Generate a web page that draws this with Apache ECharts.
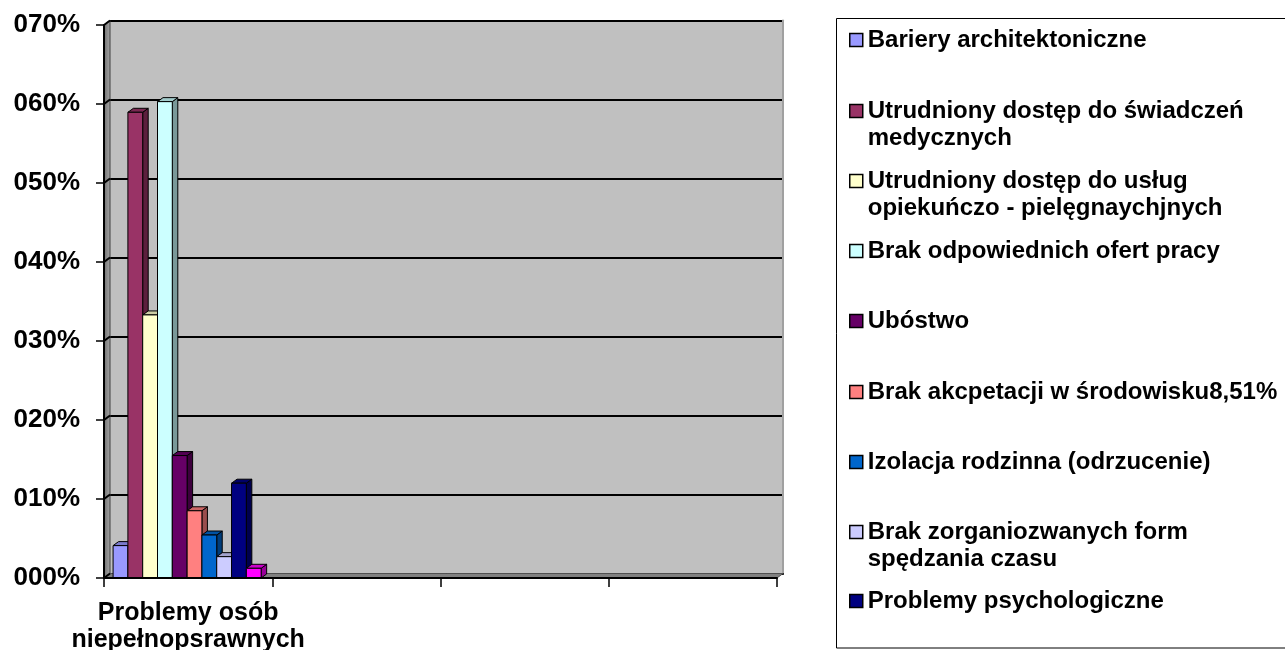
<!DOCTYPE html>
<html><head><meta charset="utf-8">
<script src="https://cdn.jsdelivr.net/npm/echarts@6/dist/echarts.min.js"></script>
<style>html,body{margin:0;padding:0;background:#fff}#c{width:1285px;height:650px}</style>
</head><body><div id="c"></div>
<script>
// ---- data ----
const categories = ['Problemy osób\nniepełnopsrawnych', '', '', ''];
const seriesNames = [
  'Bariery architektoniczne',
  'Utrudniony dostęp do świadczeń\nmedycznych',
  'Utrudniony dostęp do usług\nopiekuńczo - pielęgnaychjnych',
  'Brak odpowiednich ofert pracy',
  'Ubóstwo',
  'Brak akcpetacji w środowisku8,51%',
  'Izolacja rodzinna (odrzucenie)',
  'Brak zorganiozwanych form\nspędzania czasu',
  'Problemy psychologiczne',
  'Inne'
];
const seriesValues = [0.041, 0.5895, 0.333, 0.603, 0.155, 0.0851, 0.0544, 0.027, 0.12, 0.0123];
const seriesColors = ['#9999FF','#993366','#FFFFCC','#CCFFFF','#660066','#FF8080','#0066CC','#CCCCFF','#000080','#FF00FF'];
const yTickValues = [0, 0.1, 0.2, 0.3, 0.4, 0.5, 0.6, 0.7];
const yTickLabels = ['000%','010%','020%','030%','040%','050%','060%','070%'];
const legendShown = 9;

// ---- layout / style ----
const FONT = '"Liberation Sans", Arial, sans-serif';
const WX = 6, WY = 4.5;      // wall depth
const DX = 5.5, DY = 4;      // bar depth
const START_FRAC = 0.054, BAR_FRAC = 0.088;
const legendIconCenters = [40, 111, 181, 251, 321, 392, 462, 532, 601];
const LH = 27.5;

function shade(hex, f) {
  const n = parseInt(hex.slice(1), 16);
  const r = (n >> 16) & 255, g = (n >> 8) & 255, b = n & 255;
  return 'rgb(' + Math.round(r * f) + ',' + Math.round(g * f) + ',' + Math.round(b * f) + ')';
}

function barRender(i) {
  return function (params, api) {
    const c = api.value(0), v = api.value(1);
    const base = api.coord([c, 0]);
    const top = api.coord([c, v]);
    const band = api.size([1, 0])[0];
    const w = band * BAR_FRAC;
    const x = base[0] - band / 2 + band * START_FRAC + i * w;
    const yT = top[1], yB = base[1];
    const col = seriesColors[i];
    return {
      type: 'group',
      children: [
        { type: 'polygon', shape: { points: [[x + w, yT], [x + w + DX, yT - DY], [x + w + DX, yB - DY], [x + w, yB]] },
          style: { fill: shade(col, 0.6), stroke: '#000', lineWidth: 1 } },
        { type: 'polygon', shape: { points: [[x, yT], [x + DX, yT - DY], [x + w + DX, yT - DY], [x + w, yT]] },
          style: { fill: shade(col, 0.8), stroke: '#000', lineWidth: 1 } },
        { type: 'rect', shape: { x: x, y: yT, width: w, height: yB - yT },
          style: { fill: col, stroke: '#000', lineWidth: 1 } }
      ]
    };
  };
}

function wallRender(params, api) {
  const cs = params.coordSys;
  const x0 = cs.x, y0 = cs.y, x1 = cs.x + cs.width, y1 = cs.y + cs.height;
  const children = [
    { type: 'polygon', shape: { points: [[x0, y0], [x0 + WX, y0 - WY], [x0 + WX, y1 - WY], [x0, y1]] },
      style: { fill: new echarts.graphic.LinearGradient(0, 0, 1, 0, [{ offset: 0, color: '#6e6e6e' }, { offset: 1, color: '#a8a8a8' }]),
               stroke: '#404040', lineWidth: 1 } },
    { type: 'polygon', shape: { points: [[x0, y1], [x0 + WX, y1 - WY], [x1 + WX, y1 - WY], [x1, y1]] },
      style: { fill: '#808080', stroke: '#505050', lineWidth: 1 } }
  ];
  yTickValues.forEach(function (v) {
    const p = api.coord([0, v]);
    children.push({ type: 'line', shape: { x1: x0, y1: p[1], x2: x0 + WX, y2: p[1] - WY },
      style: { stroke: '#000', lineWidth: 2 } });
  });
  return { type: 'group', children: children };
}

const series = [{
  type: 'custom', name: '__walls', xAxisIndex: 1, yAxisIndex: 1, silent: true,
  renderItem: wallRender, data: [[0, 0]], z: 1
}];
seriesNames.forEach(function (n, i) {
  series.push({
    type: 'custom', name: n, xAxisIndex: 1, yAxisIndex: 1,
    itemStyle: { color: seriesColors[i] },
    renderItem: barRender(i), data: [[0, seriesValues[i]]], z: 2
  });
});

const legends = seriesNames.slice(0, legendShown).map(function (n, i) {
  const lines = n.split('\n').length;
  const half = lines === 1 ? LH / 2 : (LH * 3) / 2;
  return {
    data: [n],
    left: 849, top: legendIconCenters[i] - half,
    padding: 0, icon: 'rect', itemWidth: 13, itemHeight: 13, selectedMode: false,
    formatter: function (name) { return lines === 1 ? name : '\n' + name; },
    itemStyle: { borderColor: '#000', borderWidth: 1.5 },
    textStyle: { fontFamily: FONT, fontSize: 24, fontWeight: 'bold', color: '#000', lineHeight: LH }
  };
});

const option = {
  backgroundColor: '#fff',
  animation: false,
  textStyle: { fontFamily: FONT },
  grid: [
    { left: 104 + WX, right: 508 - WX, top: 25 - WY, bottom: 72 + WY, show: true, backgroundColor: '#C0C0C0', borderWidth: 0,
      containLabel: false, outerBoundsMode: 'none' },
    { left: 104, right: 508, top: 25, bottom: 72, containLabel: false, outerBoundsMode: 'none' }
  ],
  xAxis: [
    { type: 'category', gridIndex: 0, data: categories, position: 'top',
      axisLine: { show: true, lineStyle: { color: '#000', width: 2 } }, axisTick: { show: false }, axisLabel: { show: false }, splitLine: { show: false } },
    { type: 'category', gridIndex: 1, data: categories, z: 5,
      axisLine: { show: true, lineStyle: { color: '#000', width: 2 } },
      axisTick: { show: true, length: 9, lineStyle: { color: '#000', width: 1.5 } },
      axisLabel: { interval: 0, margin: 22, fontFamily: FONT, fontSize: 25, fontWeight: 'bold', color: '#000', lineHeight: 27 } }
  ],
  yAxis: [
    { type: 'value', gridIndex: 0, min: 0, max: 0.7, interval: 0.1, position: 'right',
      axisLine: { show: true, lineStyle: { color: '#a0a0a0', width: 2 } }, axisTick: { show: false }, axisLabel: { show: false },
      splitLine: { show: true, lineStyle: { color: '#000', width: 2 } } },
    { type: 'value', gridIndex: 1, min: 0, max: 0.7, interval: 0.1, z: 5,
      axisLine: { show: true, lineStyle: { color: '#000', width: 2 } },
      axisTick: { show: true, length: 8, lineStyle: { color: '#000', width: 1.5 } },
      splitLine: { show: false },
      axisLabel: { margin: 24, fontFamily: FONT, fontSize: 26, fontWeight: 'bold', color: '#000',
        formatter: function (v, idx) { return yTickLabels[idx]; } } }
  ],
  legend: legends,
  graphic: [
    { type: 'rect', shape: { x: 836.5, y: 18.5, width: 470, height: 629.5 }, style: { fill: 'none', stroke: '#000', lineWidth: 1 }, silent: true, z: -1 }
  ],
  series: series
};

const chart = echarts.init(document.getElementById('c'));
chart.setOption(option);
</script>
</body></html>
